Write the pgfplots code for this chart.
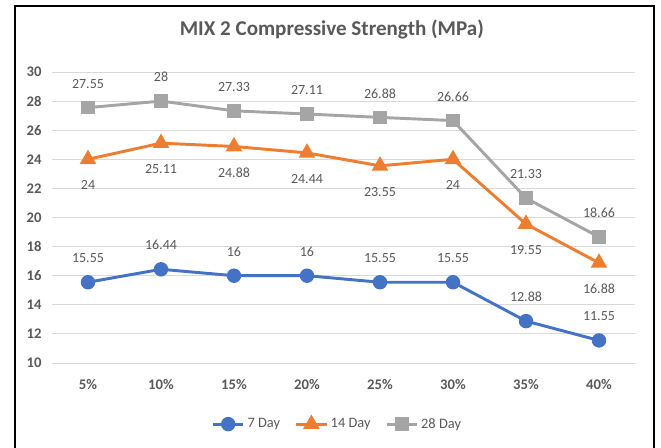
\documentclass[border=0pt]{standalone}
\usepackage{fontspec}
\setmainfont{Carlito}
\usepackage{pgfplots}
\pgfplotsset{compat=1.18}
\definecolor{cblue}{HTML}{4472C4}
\definecolor{corange}{HTML}{ED7D31}
\definecolor{cgray}{HTML}{A5A5A5}
\definecolor{tgray}{HTML}{595959}
\definecolor{gridc}{HTML}{D9D9D9}
\begin{document}
\begin{tikzpicture}[x=0.75pt,y=0.75pt]
\useasboundingbox (0,0) rectangle (661,448);
\draw[line width=1.4pt] (15,0) -- (15,442) -- (654,442) -- (654,0);
\begin{axis}[
  at={(38.625pt,63.75pt)}, anchor=south west,
  scale only axis, width=438pt, height=218.25pt,
  xmin=-0.5, xmax=7.5, ymin=10, ymax=30,
  xtick={0,...,7},
  xticklabels={5\%,10\%,15\%,20\%,25\%,30\%,35\%,40\%},
  ytick={10,12,...,30},
  axis line style={draw=none},
  major tick length=0pt,
  xmajorgrids=false,
  ymajorgrids=true, grid style={draw=gridc, line width=0.6pt},
  /pgf/number format/assume math mode=true,
  tick label style={font=\fontsize{11}{13}\selectfont\bfseries, text=tgray},
  xticklabel style={yshift=-9pt},
  yticklabel style={xshift=-4pt},
  title={MIX 2 Compressive Strength (MPa)},
  title style={at={(0.48,1.117)}, anchor=center, font=\fontsize{15.8}{18}\selectfont\bfseries, text=tgray},
  legend style={at={(0.49,-0.21)}, anchor=center, draw=none, fill=none,
    legend columns=-1, font=\fontsize{10.8}{12}\selectfont, text=tgray,
    /tikz/every even column/.append style={column sep=9pt}},
  legend image code/.code={\draw[mark repeat=2,mark phase=2] plot coordinates {(0cm,0cm) (0.4cm,0cm) (0.8cm,0cm)};},
  nodes near coords,
  every node near coord/.append style={font=\fontsize{10.5}{12}\selectfont, text=tgray, anchor=center},
  point meta=explicit symbolic,
]
\addplot[color=cblue, line width=2.2pt, mark=*, mark size=4.3pt,
  every node near coord/.append style={yshift=18pt}]
  table[meta=l] {
x y l
0 15.55 15.55
1 16.44 16.44
2 16 16
3 16 16
4 15.55 15.55
5 15.55 15.55
6 12.88 12.88
7 11.55 11.55
};
\addlegendentry{7 Day}
\addplot[color=corange, line width=2.2pt, mark=triangle*, mark size=5pt,
  every node near coord/.append style={yshift=-19.5pt}]
  table[meta=l] {
x y l
0 24 24
1 25.11 25.11
2 24.88 24.88
3 24.44 24.44
4 23.55 23.55
5 24 24
6 19.55 19.55
7 16.88 16.88
};
\addlegendentry{14 Day}
\addplot[color=cgray, line width=2.2pt, mark=square*, mark size=4pt,
  every node near coord/.append style={yshift=18pt}]
  table[meta=l] {
x y l
0 27.55 27.55
1 28 28
2 27.33 27.33
3 27.11 27.11
4 26.88 26.88
5 26.66 26.66
6 21.33 21.33
7 18.66 18.66
};
\addlegendentry{28 Day}
\end{axis}
\end{tikzpicture}
\end{document}
